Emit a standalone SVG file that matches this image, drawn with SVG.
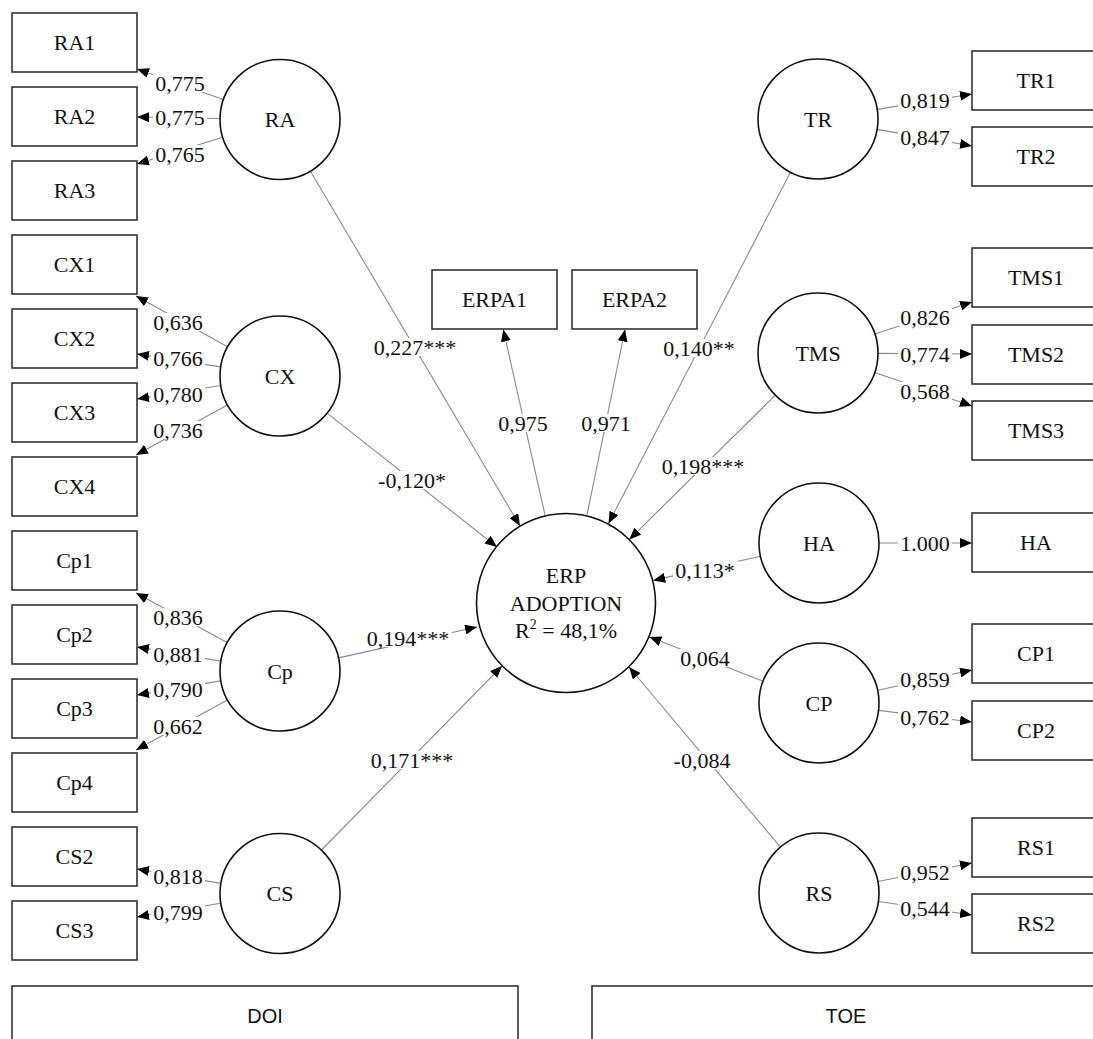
<svg xmlns="http://www.w3.org/2000/svg" width="1093" height="1039" viewBox="0 0 1093 1039">
<style>
.box{fill:#fff;stroke:#333;stroke-width:1.6}
.lv{fill:#fff;stroke:#111;stroke-width:1.6}
.t{font-family:"Liberation Serif","Times New Roman",serif;font-size:22px;fill:#111;text-anchor:middle}
.lab{font-family:"Liberation Serif","Times New Roman",serif;font-size:22px;fill:#111;text-anchor:middle}
.bg{fill:#fff;stroke:none}
.ln{stroke:#8a8a8a;stroke-width:1.1;fill:none;marker-end:url(#arr)}
.grp{fill:#fff;stroke:#333;stroke-width:1.6}
.gt{font-family:"Liberation Sans",Arial,sans-serif;font-size:20px;fill:#111;text-anchor:middle}
</style>
<defs>
<marker id="arr" markerWidth="13" markerHeight="10" refX="12" refY="5" orient="auto" markerUnits="userSpaceOnUse">
<path d="M0,0 L12,5 L0,10 z" fill="#000"/>
</marker>
</defs>
<rect width="1093" height="1039" fill="#fff"/>

<!-- group boxes -->
<g id="DOI"><rect class="grp" x="12" y="986" width="506" height="70"/><text class="gt" x="265" y="1023">DOI</text></g>
<g id="TOE"><rect class="grp" x="592" y="986" width="508" height="70"/><text class="gt" x="846" y="1023">TOE</text></g>

<!-- connectors -->
<g id="connectors">
<!-- RA -->
<line class="ln" x1="223.4" y1="99.5" x2="137" y2="69"/>
<line class="ln" x1="220" y1="118.5" x2="137" y2="117"/>
<line class="ln" x1="222.7" y1="137.3" x2="137" y2="164"/>
<!-- CX -->
<line class="ln" x1="227.6" y1="346.8" x2="136" y2="296"/>
<line class="ln" x1="220.7" y1="366.9" x2="137" y2="354"/>
<line class="ln" x1="220.7" y1="385.5" x2="137" y2="399"/>
<line class="ln" x1="227.4" y1="404.9" x2="136" y2="455"/>
<!-- Cp -->
<line class="ln" x1="227.3" y1="642.4" x2="136" y2="593"/>
<line class="ln" x1="220.8" y1="661.1" x2="137" y2="647"/>
<line class="ln" x1="220.8" y1="680.9" x2="137" y2="695"/>
<line class="ln" x1="227.4" y1="699.9" x2="136" y2="750"/>
<!-- CS -->
<line class="ln" x1="220.9" y1="883.4" x2="137" y2="869"/>
<line class="ln" x1="220.8" y1="903.2" x2="137" y2="917"/>
<!-- TR -->
<line class="ln" x1="877.2" y1="109.4" x2="972" y2="94"/>
<line class="ln" x1="877.1" y1="129.4" x2="972" y2="146"/>
<!-- TMS -->
<line class="ln" x1="874.9" y1="334.1" x2="972" y2="302"/>
<line class="ln" x1="878" y1="353.4" x2="972" y2="354"/>
<line class="ln" x1="874.7" y1="372.5" x2="972" y2="406"/>
<!-- HA -->
<line class="ln" x1="879" y1="543" x2="972" y2="543"/>
<!-- CP -->
<line class="ln" x1="877.7" y1="690.3" x2="972" y2="670"/>
<line class="ln" x1="878.5" y1="710.4" x2="972" y2="722"/>
<!-- RS -->
<line class="ln" x1="877.9" y1="881.5" x2="972" y2="863"/>
<line class="ln" x1="878.4" y1="901.5" x2="972" y2="915"/>
<!-- structural -->
<line class="ln" x1="310.5" y1="171.2" x2="520" y2="526"/>
<line class="ln" x1="327.1" y1="413.1" x2="497" y2="547"/>
<line class="ln" x1="338.5" y1="657.9" x2="477" y2="627"/>
<line class="ln" x1="321.5" y1="850" x2="502" y2="666"/>
<line class="ln" x1="790.4" y1="172.3" x2="608.5" y2="523.5"/>
<line class="ln" x1="775.3" y1="395.2" x2="629.4" y2="539.4"/>
<line class="ln" x1="760.5" y1="556.2" x2="653.2" y2="580.4"/>
<line class="ln" x1="763.1" y1="681.2" x2="649.4" y2="636.9"/>
<line class="ln" x1="780.4" y1="847.1" x2="629" y2="667"/>
<line class="ln" x1="545" y1="515" x2="503.3" y2="329.5"/>
<line class="ln" x1="587" y1="515" x2="625" y2="329.5"/>

<!-- label backgrounds -->
<rect class="bg" x="153" y="74" width="54" height="18"/>
<rect class="bg" x="153" y="108" width="54" height="18"/>
<rect class="bg" x="153" y="145" width="54" height="18"/>
<rect class="bg" x="151" y="313" width="54" height="18"/>
<rect class="bg" x="151" y="349" width="54" height="18"/>
<rect class="bg" x="151" y="385" width="54" height="18"/>
<rect class="bg" x="151" y="421" width="54" height="18"/>
<rect class="bg" x="151" y="608" width="54" height="18"/>
<rect class="bg" x="151" y="645" width="54" height="18"/>
<rect class="bg" x="151" y="680" width="54" height="18"/>
<rect class="bg" x="151" y="717" width="54" height="18"/>
<rect class="bg" x="151" y="867" width="54" height="18"/>
<rect class="bg" x="151" y="903" width="54" height="18"/>
<rect class="bg" x="898" y="91" width="54" height="18"/>
<rect class="bg" x="898" y="128" width="54" height="18"/>
<rect class="bg" x="898" y="308" width="54" height="18"/>
<rect class="bg" x="898" y="345" width="54" height="18"/>
<rect class="bg" x="898" y="382" width="54" height="18"/>
<rect class="bg" x="898" y="534" width="54" height="18"/>
<rect class="bg" x="898" y="670" width="54" height="18"/>
<rect class="bg" x="898" y="708" width="54" height="18"/>
<rect class="bg" x="898" y="863" width="54" height="18"/>
<rect class="bg" x="898" y="899" width="54" height="18"/>
<rect class="bg" x="372" y="338" width="87" height="18"/>
<rect class="bg" x="376" y="471" width="72" height="18"/>
<rect class="bg" x="365" y="629" width="87" height="18"/>
<rect class="bg" x="369" y="751" width="87" height="18"/>
<rect class="bg" x="496" y="414" width="54" height="18"/>
<rect class="bg" x="579" y="414" width="54" height="18"/>
<rect class="bg" x="661" y="339" width="76" height="18"/>
<rect class="bg" x="660" y="457" width="87" height="18"/>
<rect class="bg" x="673" y="561" width="65" height="18"/>
<rect class="bg" x="678" y="649" width="54" height="18"/>
<rect class="bg" x="672" y="751" width="61" height="18"/>

<!-- labels -->
<text class="lab" x="180" y="90.5">0,775</text>
<text class="lab" x="180" y="124.5">0,775</text>
<text class="lab" x="180" y="161.5">0,765</text>
<text class="lab" x="178" y="329.5">0,636</text>
<text class="lab" x="178" y="365.5">0,766</text>
<text class="lab" x="178" y="401.5">0,780</text>
<text class="lab" x="178" y="437.5">0,736</text>
<text class="lab" x="178" y="624.5">0,836</text>
<text class="lab" x="178" y="661.5">0,881</text>
<text class="lab" x="178" y="696.5">0,790</text>
<text class="lab" x="178" y="733.5">0,662</text>
<text class="lab" x="178" y="883.5">0,818</text>
<text class="lab" x="178" y="919.5">0,799</text>
<text class="lab" x="925" y="107.5">0,819</text>
<text class="lab" x="925" y="144.5">0,847</text>
<text class="lab" x="925" y="324.5">0,826</text>
<text class="lab" x="925" y="361.5">0,774</text>
<text class="lab" x="925" y="398.5">0,568</text>
<text class="lab" x="925" y="550.5">1.000</text>
<text class="lab" x="925" y="686.5">0,859</text>
<text class="lab" x="925" y="724.5">0,762</text>
<text class="lab" x="925" y="879.5">0,952</text>
<text class="lab" x="925" y="915.5">0,544</text>
<text class="lab" x="415" y="354.5">0,227***</text>
<text class="lab" x="412" y="487.5">-0,120*</text>
<text class="lab" x="408" y="645.5">0,194***</text>
<text class="lab" x="412" y="767.5">0,171***</text>
<text class="lab" x="523" y="430.5">0,975</text>
<text class="lab" x="606" y="430.5">0,971</text>
<text class="lab" x="699" y="355.5">0,140**</text>
<text class="lab" x="703" y="473.5">0,198***</text>
<text class="lab" x="705" y="577.5">0,113*</text>
<text class="lab" x="705" y="665.5">0,064</text>
<text class="lab" x="702" y="767.5">-0,084</text>
</g>

<!-- left indicator boxes -->
<g id="RA1"><rect class="box" x="12" y="13" width="125" height="59"/><text class="t" x="74.5" y="50">RA1</text></g>
<g id="RA2"><rect class="box" x="12" y="87" width="125" height="59"/><text class="t" x="74.5" y="124">RA2</text></g>
<g id="RA3"><rect class="box" x="12" y="161" width="125" height="59"/><text class="t" x="74.5" y="198">RA3</text></g>
<g id="CX1"><rect class="box" x="12" y="235" width="125" height="59"/><text class="t" x="74.5" y="272">CX1</text></g>
<g id="CX2"><rect class="box" x="12" y="309" width="125" height="59"/><text class="t" x="74.5" y="346">CX2</text></g>
<g id="CX3"><rect class="box" x="12" y="383" width="125" height="59"/><text class="t" x="74.5" y="420">CX3</text></g>
<g id="CX4"><rect class="box" x="12" y="457" width="125" height="59"/><text class="t" x="74.5" y="494">CX4</text></g>
<g id="Cp1"><rect class="box" x="12" y="531" width="125" height="59"/><text class="t" x="74.5" y="568">Cp1</text></g>
<g id="Cp2"><rect class="box" x="12" y="605" width="125" height="59"/><text class="t" x="74.5" y="642">Cp2</text></g>
<g id="Cp3"><rect class="box" x="12" y="679" width="125" height="59"/><text class="t" x="74.5" y="716">Cp3</text></g>
<g id="Cp4"><rect class="box" x="12" y="753" width="125" height="59"/><text class="t" x="74.5" y="790">Cp4</text></g>
<g id="CS2"><rect class="box" x="12" y="827" width="125" height="59"/><text class="t" x="74.5" y="864">CS2</text></g>
<g id="CS3"><rect class="box" x="12" y="901" width="125" height="59"/><text class="t" x="74.5" y="938">CS3</text></g>

<!-- right indicator boxes -->
<g id="TR1"><rect class="box" x="972" y="51" width="128" height="59"/><text class="t" x="1036" y="88">TR1</text></g>
<g id="TR2"><rect class="box" x="972" y="127" width="128" height="59"/><text class="t" x="1036" y="164">TR2</text></g>
<g id="TMS1"><rect class="box" x="972" y="248" width="128" height="59"/><text class="t" x="1036" y="285">TMS1</text></g>
<g id="TMS2"><rect class="box" x="972" y="325" width="128" height="59"/><text class="t" x="1036" y="362">TMS2</text></g>
<g id="TMS3"><rect class="box" x="972" y="401" width="128" height="59"/><text class="t" x="1036" y="438">TMS3</text></g>
<g id="HA_ind"><rect class="box" x="972" y="513" width="128" height="59"/><text class="t" x="1036" y="550">HA</text></g>
<g id="CP1"><rect class="box" x="972" y="624" width="128" height="59"/><text class="t" x="1036" y="661">CP1</text></g>
<g id="CP2"><rect class="box" x="972" y="701" width="128" height="59"/><text class="t" x="1036" y="738">CP2</text></g>
<g id="RS1"><rect class="box" x="972" y="818" width="128" height="59"/><text class="t" x="1036" y="855">RS1</text></g>
<g id="RS2"><rect class="box" x="972" y="894" width="128" height="59"/><text class="t" x="1036" y="931">RS2</text></g>

<!-- ERPA boxes -->
<g id="ERPA1"><rect class="box" x="432" y="270" width="125" height="59"/><text class="t" x="494.5" y="307">ERPA1</text></g>
<g id="ERPA2"><rect class="box" x="572" y="270" width="125" height="59"/><text class="t" x="634.5" y="307">ERPA2</text></g>

<!-- latent variables -->
<g id="RA"><circle class="lv" cx="280" cy="119.5" r="60"/><text class="t" x="280" y="127">RA</text></g>
<g id="CX"><circle class="lv" cx="280" cy="376" r="60"/><text class="t" x="280" y="383.5">CX</text></g>
<g id="Cp"><circle class="lv" cx="280" cy="671" r="60"/><text class="t" x="280" y="678.5">Cp</text></g>
<g id="CS"><circle class="lv" cx="280" cy="893.5" r="60"/><text class="t" x="280" y="901">CS</text></g>
<g id="TR"><circle class="lv" cx="818" cy="119" r="60"/><text class="t" x="818" y="126.5">TR</text></g>
<g id="TMS"><circle class="lv" cx="818" cy="353" r="60"/><text class="t" x="818" y="360.5">TMS</text></g>
<g id="HA"><circle class="lv" cx="819" cy="543" r="60"/><text class="t" x="819" y="550.5">HA</text></g>
<g id="CP"><circle class="lv" cx="819" cy="703" r="60"/><text class="t" x="819" y="710.5">CP</text></g>
<g id="RS"><circle class="lv" cx="819" cy="893" r="60"/><text class="t" x="819" y="900.5">RS</text></g>
<g id="ERP"><circle class="lv" cx="566" cy="603" r="89.5"/>
<text class="t" x="566" y="583">ERP</text>
<text class="t" x="566" y="611">ADOPTION</text>
<text class="t" x="566" y="638">R<tspan dy="-9" font-size="14">2</tspan><tspan dy="9"> = 48,1%</tspan></text>
</g>
</svg>
